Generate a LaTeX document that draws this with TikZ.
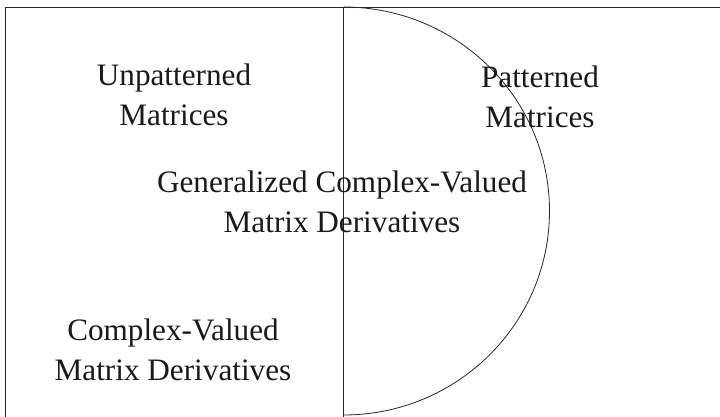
\documentclass[tikz,border=0pt]{standalone}
\usepackage{fontspec}
\setmainfont{Liberation Serif}
\begin{document}
\begin{tikzpicture}[x=1pt,y=-1pt,
  frame/.style={draw=black!85,line width=0.8pt},
  label/.style={align=center,anchor=base,inner sep=0pt,
    font=\fontsize{31.2}{40}\selectfont,text=black!90}]
\useasboundingbox (0,0) rectangle (720,416);
% outer frame of the diagram (runs past the lower and right edges)
\coordinate (tl) at (5,7);
\coordinate (br) at (760,440);
\draw[frame] (tl) rectangle (br);
% dividing line and the half-disc of patterned matrices
\coordinate (mtop) at (343.5,7);
\coordinate (mbot) at (343.5,440);
\draw[frame] (mtop) -- (mbot);
\draw[frame] (mtop) arc[start angle=90,end angle=-90,x radius=206,y radius=-204];
% region labels (anchored at the baseline of their last line)
\node[label] (unpat) at (174,125) {Unpatterned\\Matrices};
\node[label] (pat) at (540,127) {Patterned\\Matrices};
\node[label] (gen) at (342,232) {Generalized Complex-Valued\\Matrix Derivatives};
\node[label] (cvd) at (173,380) {Complex-Valued\\Matrix Derivatives};
\end{tikzpicture}
\end{document}
